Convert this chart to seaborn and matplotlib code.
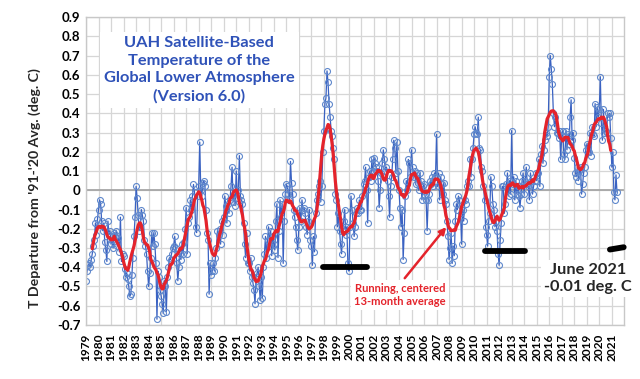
import numpy as np
import pandas as pd
import matplotlib
matplotlib.use("Agg")
import matplotlib.pyplot as plt
import seaborn as sns

# UAH v6.0 global lower troposphere, monthly anomaly (deg C vs 1991-2020), Jan 1979 - Jun 2021
anomaly = [
    -0.47, -0.42, -0.39, -0.38, -0.40, -0.36, -0.33, -0.29, -0.26, -0.17, -0.23, -0.15,  # 1979
    -0.10, -0.05, -0.07, -0.16, -0.21, -0.17, -0.27, -0.31, -0.37, -0.16, -0.23, -0.21,  # 1980
    -0.28, -0.26, -0.30, -0.22, -0.24, -0.21, -0.29, -0.25, -0.32, -0.14, -0.37, -0.33,  # 1981
    -0.34, -0.41, -0.45, -0.43, -0.46, -0.50, -0.55, -0.54, -0.44, -0.35, -0.24, -0.14,  # 1982
    0.02, -0.04, -0.13, -0.21, -0.19, -0.10, -0.13, -0.16, -0.26, -0.29, -0.33, -0.42,   # 1983
    -0.50, -0.43, -0.35, -0.22, -0.29, -0.22, -0.28, -0.38, -0.67, -0.42, -0.45, -0.52,  # 1984
    -0.55, -0.59, -0.64, -0.47, -0.50, -0.63, -0.45, -0.40, -0.35, -0.36, -0.33, -0.30,  # 1985
    -0.29, -0.24, -0.30, -0.38, -0.47, -0.40, -0.33, -0.36, -0.28, -0.33, -0.27, -0.20,  # 1986
    -0.09, -0.33, -0.17, -0.14, -0.05, -0.10, -0.03, 0.03, -0.01, -0.19, -0.22, -0.03,   # 1987
    0.02, 0.25, 0.00, -0.03, 0.04, 0.05, 0.02, -0.10, -0.22, -0.26, -0.54, -0.38,        # 1988
    -0.44, -0.42, -0.38, -0.42, -0.35, -0.30, -0.21, -0.23, -0.20, -0.28, -0.16, -0.23,  # 1989
    -0.14, -0.03, -0.08, -0.17, -0.07, -0.12, -0.05, 0.02, 0.12, -0.06, -0.02, -0.08,    # 1990
    0.10, -0.04, 0.00, 0.18, -0.03, -0.05, -0.07, -0.17, -0.28, -0.35, -0.22, -0.38,     # 1991
    -0.38, -0.42, -0.35, -0.45, -0.48, -0.52, -0.59, -0.45, -0.43, -0.40, -0.50, -0.57,  # 1992
    -0.45, -0.56, -0.40, -0.33, -0.24, -0.35, -0.26, -0.19, -0.29, -0.21, -0.34, -0.24,  # 1993
    -0.28, -0.31, -0.16, -0.07, -0.35, -0.21, -0.05, -0.14, -0.07, -0.38, -0.16, -0.02,  # 1994
    0.03, 0.02, -0.02, -0.05, 0.15, 0.04, -0.02, -0.10, -0.14, -0.19, -0.26, -0.31,      # 1995
    -0.19, -0.09, -0.16, -0.05, -0.10, -0.09, -0.12, -0.19, -0.23, -0.16, -0.10, -0.26,  # 1996
    -0.29, -0.39, -0.24, -0.32, -0.12, -0.05, -0.02, 0.02, 0.05, -0.06, 0.02, 0.20,      # 1997
    0.31, 0.45, 0.48, 0.62, 0.56, 0.45, 0.38, 0.31, 0.28, 0.22, 0.16, -0.02,             # 1998
    -0.05, -0.19, -0.12, -0.21, -0.28, -0.33, -0.21, -0.16, -0.10, -0.23, -0.19, -0.38,  # 1999
    -0.42, -0.19, -0.03, -0.10, -0.17, -0.24, -0.19, -0.12, -0.09, -0.12, -0.05, -0.10,  # 2000
    -0.10, -0.03, 0.03, 0.05, 0.12, 0.00, -0.17, 0.07, 0.10, 0.05, 0.16, 0.10,           # 2001
    0.17, 0.14, 0.12, 0.10, 0.05, -0.09, 0.00, 0.09, 0.14, 0.21, 0.16, 0.10,             # 2002
    0.12, 0.05, -0.03, -0.14, 0.02, 0.07, 0.16, 0.26, 0.22, 0.09, 0.25, 0.10,            # 2003
    0.00, -0.09, -0.19, -0.10, -0.36, -0.22, -0.03, 0.05, 0.00, 0.16, 0.14, 0.07,        # 2004
    0.21, 0.12, 0.07, 0.10, 0.03, 0.09, 0.04, 0.00, 0.09, 0.05, -0.05, 0.02,             # 2005
    0.03, -0.03, -0.05, -0.21, -0.05, -0.02, 0.05, 0.03, 0.07, 0.02, 0.09, 0.07,         # 2006
    0.29, 0.02, 0.09, -0.05, 0.07, 0.03, -0.02, 0.04, -0.05, -0.07, -0.16, -0.24,        # 2007
    -0.36, -0.30, -0.22, -0.38, -0.29, -0.34, -0.16, -0.07, -0.10, -0.03, -0.05, -0.12,  # 2008
    -0.28, -0.10, -0.16, -0.05, -0.07, 0.02, 0.05, 0.02, 0.16, 0.07, 0.16, 0.22,         # 2009
    0.29, 0.33, 0.30, 0.29, 0.38, 0.22, 0.21, 0.12, 0.10, 0.02, -0.05, -0.19,            # 2010
    -0.23, -0.29, -0.16, -0.12, 0.07, 0.02, -0.07, -0.10, -0.19, -0.16, -0.21, -0.33,    # 2011
    -0.39, -0.26, -0.17, 0.02, 0.02, -0.12, -0.07, 0.03, 0.09, -0.03, 0.05, -0.02,       # 2012
    0.31, 0.03, 0.07, -0.05, 0.05, -0.02, 0.02, -0.03, -0.09, -0.02, 0.05, 0.09,         # 2013
    -0.02, 0.05, 0.12, 0.03, 0.02, -0.05, 0.09, 0.05, -0.02, 0.02, 0.05, 0.09,           # 2014
    0.05, 0.09, 0.16, 0.02, 0.19, 0.23, 0.14, 0.21, 0.26, 0.30, 0.28, 0.33,              # 2015
    0.59, 0.70, 0.63, 0.55, 0.40, 0.33, 0.38, 0.30, 0.30, 0.27, 0.31, 0.16,              # 2016
    0.28, 0.31, 0.19, 0.16, 0.31, 0.21, 0.29, 0.24, 0.38, 0.47, 0.26, 0.30,              # 2017
    0.17, 0.09, 0.07, 0.12, 0.05, 0.10, 0.12, -0.02, 0.03, 0.09, 0.12, 0.21,             # 2018
    0.24, 0.23, 0.20, 0.30, 0.18, 0.33, 0.29, 0.28, 0.45, 0.33, 0.43, 0.38,              # 2019
    0.42, 0.59, 0.35, 0.26, 0.42, 0.30, 0.31, 0.30, 0.40, 0.38, 0.40, 0.27,              # 2020
    0.12, 0.20, -0.01, -0.05, 0.08, -0.01,                                               # 2021
]
start_year = 1979
year_labels = list(range(1979, 2022))
y_ticks = [-0.7, -0.6, -0.5, -0.4, -0.3, -0.2, -0.1, 0.0, 0.1, 0.2, 0.3, 0.4, 0.5, 0.6, 0.7, 0.8, 0.9]

# hand-drawn black marks (start year, end year, level at start, level at end)
mark_x0 = [1997.93, 2010.87, 2020.85]
mark_x1 = [2001.44, 2014.06, 2021.95]
mark_y0 = [-0.400, -0.315, -0.308]
mark_y1 = [-0.400, -0.315, -0.296]

title_txt = "UAH Satellite-Based\nTemperature of the\nGlobal Lower Atmosphere\n(Version 6.0)"
note_txt = "Running, centered\n13-month average"
latest_txt = "June 2021\n-0.01 deg. C"

df = pd.DataFrame({"anomaly": anomaly})
df["year"] = start_year + np.arange(len(df)) / 12.0
df["running"] = df["anomaly"].rolling(13, center=True).mean()

sns.set_style("whitegrid")
plt.rcParams["font.family"] = ["Lato", "DejaVu Sans"]

blue = "#3a62c2"
red = "#e4232b"
title_blue = "#2f52b8"

fig = plt.figure(figsize=(6.4, 3.79), dpi=100)
ax = fig.add_axes([0.1344, 0.1425, 0.8411, 0.8126])

sns.lineplot(data=df, x="year", y="anomaly", ax=ax, color=blue, lw=0.9,
             marker="o", markersize=4.3, markerfacecolor="none",
             markeredgecolor="#5f88cc", markeredgewidth=0.8, zorder=2)
sns.lineplot(data=df, x="year", y="running", ax=ax, color=red, lw=2.3, zorder=3)

for x0, x1, y0, y1 in zip(mark_x0, mark_x1, mark_y0, mark_y1):
    ax.plot([x0, x1], [y0, y1], color="black", lw=4.2, solid_capstyle="round",
            zorder=6, clip_on=False)

ax.set_xlim(1979, 2022)
ax.set_ylim(-0.7, 0.9)
ax.set_xticks(year_labels)
ax.set_xticks(list(range(1979, 2023)), minor=True)
ax.set_xticklabels([str(y) for y in year_labels], rotation=90, fontsize=8.6,
                   fontweight="bold")
ax.set_yticks(y_ticks)
ax.set_yticklabels(["0" if v == 0 else f"{v:.1f}" for v in y_ticks],
                   fontsize=9.5, fontweight="bold")
ax.tick_params(axis="both", length=0, colors="black")
ax.tick_params(axis="x", pad=6)
ax.tick_params(axis="y", pad=4)
ax.grid(True, color="#d6d6d6", lw=0.9)
ax.axhline(0, color="#a6a6a6", lw=1.3, zorder=1.5)
for s in ax.spines.values():
    s.set_color("#c8c8c8")
    s.set_linewidth(1.0)
ax.set_xlabel("")
ax.set_ylabel("")

fig.text(35 / 640, 0.505, "T Departure from '91-'20 Avg. (deg. C)", rotation=90,
         ha="center", va="center", fontsize=10.2, fontweight="bold")

ax.text(1988.03, 0.626, title_txt, ha="center", va="center", multialignment="center",
        color=title_blue, fontsize=11.8, fontweight="bold", linespacing=1.35, zorder=5,
        bbox=dict(facecolor="white", edgecolor="none", pad=3))

ax.annotate("", xy=(2007.91, -0.18), xytext=(2004.32, -0.468),
            arrowprops=dict(arrowstyle="-|>", color=red, lw=1.8, mutation_scale=10),
            zorder=5)
ax.text(2004.08, -0.545, note_txt, ha="center", va="center", multialignment="center",
        color=red, fontsize=8, fontweight="bold", linespacing=1.2, zorder=5,
        bbox=dict(facecolor="white", edgecolor="none", pad=2))

fig.text(588 / 640, 0.265, latest_txt, ha="center", va="center", multialignment="center",
         fontsize=11.8, fontweight="bold", linespacing=1.3, zorder=5,
         bbox=dict(facecolor="white", edgecolor="none", pad=2))

fig.savefig("out.png", dpi=100)
